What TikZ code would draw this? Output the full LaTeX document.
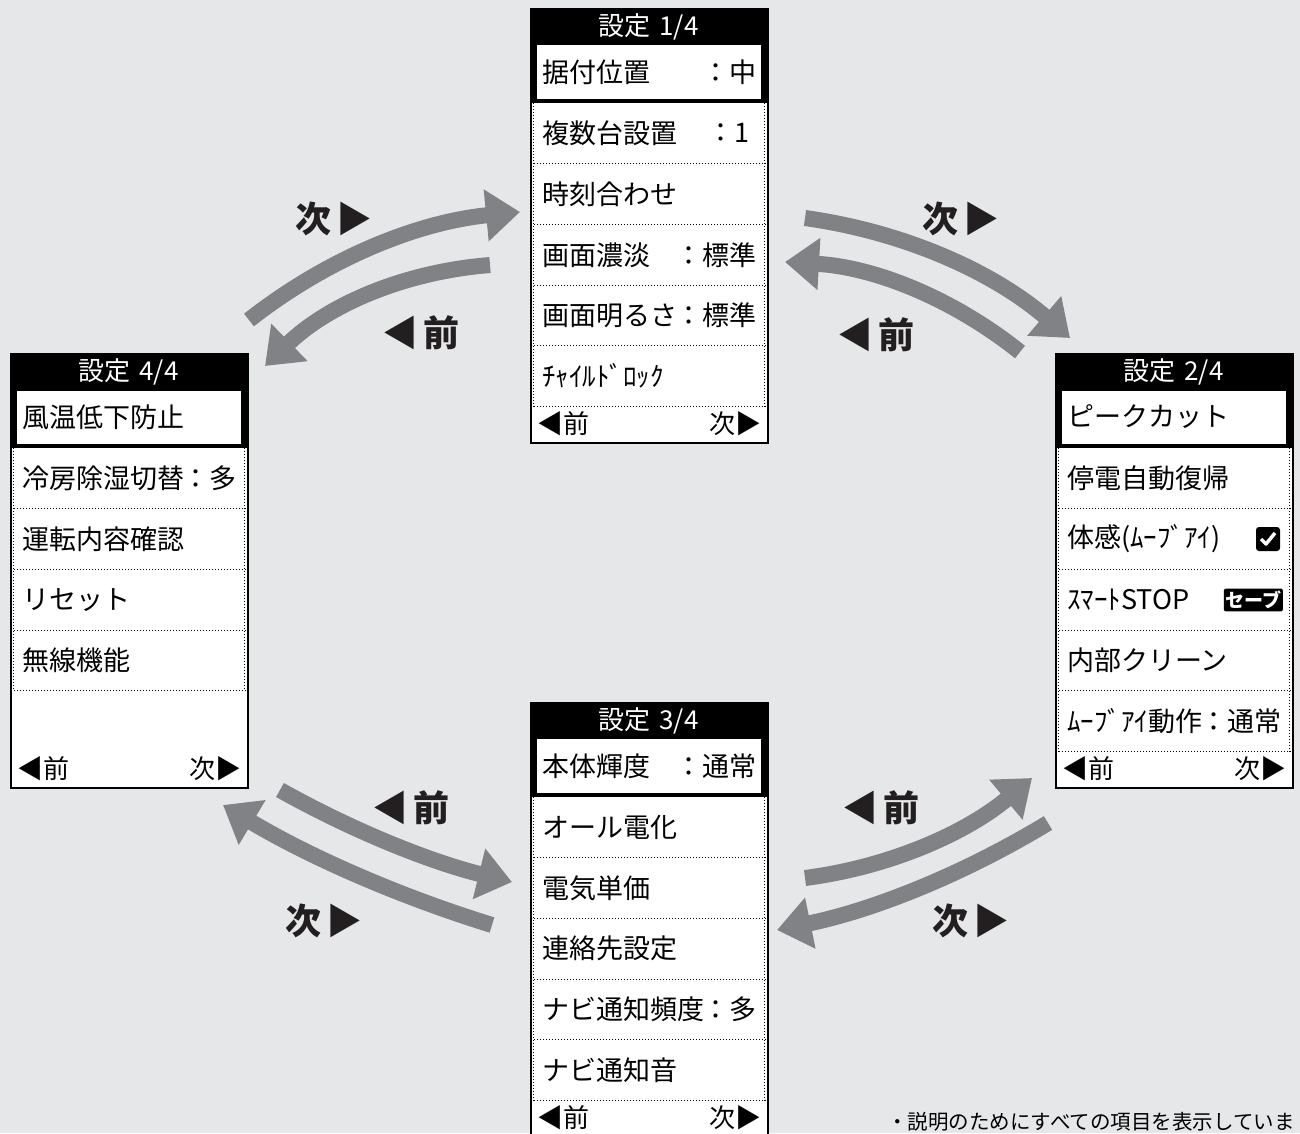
\documentclass[tikz,border=0pt]{standalone}
\usepackage{fontspec}
\usetikzlibrary{arrows.meta,positioning}
\newfontfamily\jp{Noto Sans CJK JP}
\definecolor{bggray}{HTML}{E6E7E8}
\definecolor{flowgray}{HTML}{808285}
\definecolor{lblblack}{HTML}{231F20}
\newcommand\hdrfont{\jp\fontsize{26}{26}\selectfont}
\newcommand\itmfont{\jp\fontsize{27}{27}\selectfont}
\newcommand\navfont{\jp\fontsize{26}{26}\selectfont}
\newcommand\lblfont{\jp\bfseries\fontsize{36}{36}\selectfont}
\newcommand\notefont{\jp\fontsize{20.5}{20.5}\selectfont}
\newcommand\badgefont{\jp\bfseries\fontsize{19}{19}\selectfont}

\begin{document}
\begin{tikzpicture}[
  x=1pt, y=-1pt,
  scr/.style={draw=black, line width=1.5pt, fill=white, minimum width=237pt, minimum height=434pt, inner sep=0pt, anchor=north west},
  hdr/.style={text=white, font=\hdrfont, inner sep=0pt},
  itm/.style={anchor=west, font=\itmfont, inner sep=0pt},
  val/.style={anchor=east, font=\itmfont, inner sep=0pt},
  navl/.style={anchor=west, font=\navfont, inner sep=0pt},
  navr/.style={anchor=east, font=\navfont, inner sep=0pt},
  sep/.style={line width=1pt, dash pattern=on 1pt off 2pt},
  flow/.style={draw=flowgray, line width=16pt, -{Triangle[length=34pt, width=50pt]}},
  lbl/.style={font=\lblfont, text=lblblack, inner sep=0pt}
]
\clip (0,0) rectangle (1300,1133);
\fill[bggray] (0,0) rectangle (1300,1133);

% arrow ends
\coordinate (tlns) at (249,320);  \coordinate (tlne) at (520,212);
\coordinate (tlps) at (490,265);  \coordinate (tlpe) at (265,366);
\coordinate (trns) at (805,218);  \coordinate (trne) at (1070,338);
\coordinate (trps) at (1020,352); \coordinate (trpe) at (785,262);
\coordinate (blps) at (280,790);  \coordinate (blpe) at (512,882);
\coordinate (blns) at (492,925);  \coordinate (blne) at (223,805);
\coordinate (brps) at (805,878);  \coordinate (brpe) at (1032,778);
\coordinate (brns) at (1048,823); \coordinate (brne) at (777,930);

\draw[flow] (tlns) .. controls (328,258) and (418,222) .. (tlne);
\draw[flow] (tlps) .. controls (402,272) and (327,306) .. (tlpe);
\draw[flow] (trns) .. controls (905,232) and (993,272) .. (trne);
\draw[flow] (trps) .. controls (951,297) and (873,267) .. (trpe);
\draw[flow] (blps) .. controls (353,831) and (431,862) .. (blpe);
\draw[flow] (blns) .. controls (398,896) and (308,856) .. (blne);
\draw[flow] (brps) .. controls (890,867) and (966,833) .. (brpe);
\draw[flow] (brns) .. controls (964,874) and (874,910) .. (brne);

\node[lbl] (tlnl) at (334,219) {次\hspace{5pt}▶};
\node[lbl] (tlpl) at (421,333) {◀\hspace{5pt}前};
\node[lbl] (trnl) at (961,219) {次\hspace{5pt}▶};
\node[lbl] (trpl) at (876,335) {◀\hspace{5pt}前};
\node[lbl] (blpl) at (411,808) {◀\hspace{5pt}前};
\node[lbl] (blnl) at (324,921) {次\hspace{5pt}▶};
\node[lbl] (brpl) at (881,808) {◀\hspace{5pt}前};
\node[lbl] (brnl) at (971,921) {次\hspace{5pt}▶};

% screen 1/4
\begin{scope}[shift={(530,8)}]
\node[scr] (p1) at (0,0) {};
\fill (0,0) rectangle (237,95);
\fill[white] (7,37) rectangle (231,91);
\node[hdr] (p1t) at (118.5,18.5) {設定\hspace{9pt}1/4};
\node[itm] (p1h) at (12,64) {据付位置};
\node[val] (p1hv) at (227,64) {：中};
\foreach \t [count=\k] in {複数台設置,時刻合わせ,画面濃淡,画面明るさ,ﾁｬｲﾙﾄﾞﾛｯｸ}
  \node[itm] (p1r\k) at (12,{64.65+60.7*\k}) {\t};
\node[val] (p1v1) at (220,125.35) {：1};
\node[val] (p1v3) at (227,246.75) {：標準};
\node[val] (p1v4) at (227,307.45) {：標準};
\foreach \k in {1,...,5}
  \draw[sep] (1,{95+60.7*\k}) -- (236,{95+60.7*\k});
\draw[sep] (3,95) -- (3,398.5);
\draw[sep] (234,95) -- (234,398.5);
\node[navl] (p1p) at (7,416) {◀前};
\node[navr] (p1n) at (232,416) {次▶};
\end{scope}

% screen 2/4
\begin{scope}[shift={(1055,353)}]
\node[scr] (p2) at (0,0) {};
\fill (0,0) rectangle (237,95);
\fill[white] (7,38) rectangle (231,91);
\node[hdr] (p2t) at (118.5,18.5) {設定\hspace{9pt}2/4};
\node[itm] (p2h) at (12,64) {ピークカット};
\foreach \t [count=\k] in {停電自動復帰,体感(ﾑｰﾌﾞｱｲ),ｽﾏｰﾄSTOP,内部クリーン,ﾑｰﾌﾞｱｲ動作}
  \node[itm] (p2r\k) at (12,{64.65+60.7*\k}) {\t};
\node[fill=black, rounded corners=3pt, minimum size=24pt, inner sep=0pt] (p2chk) at (213,186) {};
\draw[white, line width=3.5pt, line join=round] (206,186) -- (211,191) -- (220,180);
\node[fill=black, text=white, rounded corners=2pt, font=\badgefont, inner xsep=1.5pt, inner ysep=2.5pt, anchor=east] (p2save) at (228,247) {セーブ};
\node[val] (p2v5) at (227,368.15) {：通常};
\foreach \k in {1,...,5}
  \draw[sep] (1,{95+60.7*\k}) -- (236,{95+60.7*\k});
\draw[sep] (3,95) -- (3,398.5);
\draw[sep] (234,95) -- (234,398.5);
\node[navl] (p2p) at (7,416) {◀前};
\node[navr] (p2n) at (232,416) {次▶};
\end{scope}

% screen 3/4
\begin{scope}[shift={(530,702)}]
\node[scr] (p3) at (0,0) {};
\fill (0,0) rectangle (237,95);
\fill[white] (7,37) rectangle (231,91);
\node[hdr] (p3t) at (118.5,18.5) {設定\hspace{9pt}3/4};
\node[itm] (p3h) at (12,64) {本体輝度};
\node[val] (p3hv) at (227,64) {：通常};
\foreach \t [count=\k] in {オール電化,電気単価,連絡先設定,ナビ通知頻度,ナビ通知音}
  \node[itm] (p3r\k) at (12,{64.65+60.7*\k}) {\t};
\node[val] (p3v4) at (227,307.45) {：多};
\foreach \k in {1,...,5}
  \draw[sep] (1,{95+60.7*\k}) -- (236,{95+60.7*\k});
\draw[sep] (3,95) -- (3,398.5);
\draw[sep] (234,95) -- (234,398.5);
\node[navl] (p3p) at (7,416) {◀前};
\node[navr] (p3n) at (232,416) {次▶};
\end{scope}

% screen 4/4
\begin{scope}[shift={(10,353)}]
\node[scr] (p4) at (0,0) {};
\fill (0,0) rectangle (237,95);
\fill[white] (7,38) rectangle (231,91);
\node[hdr] (p4t) at (118.5,18.5) {設定\hspace{9pt}4/4};
\node[itm] (p4h) at (12,64) {風温低下防止};
\foreach \t [count=\k] in {冷房除湿切替,運転内容確認,リセット,無線機能}
  \node[itm] (p4r\k) at (12,{64.65+60.7*\k}) {\t};
\node[val] (p4v1) at (227,125.35) {：多};
\foreach \k in {1,...,4}
  \draw[sep] (1,{95+60.7*\k}) -- (236,{95+60.7*\k});
\draw[sep] (3,95) -- (3,337.8);
\draw[sep] (234,95) -- (234,337.8);
\node[navl] (p4p) at (7,416) {◀前};
\node[navr] (p4n) at (232,416) {次▶};
\end{scope}

\node[anchor=west, font=\notefont, inner sep=0pt] (note) at (887,1122) {・説明のためにすべての項目を表示していま};
\end{tikzpicture}
\end{document}
